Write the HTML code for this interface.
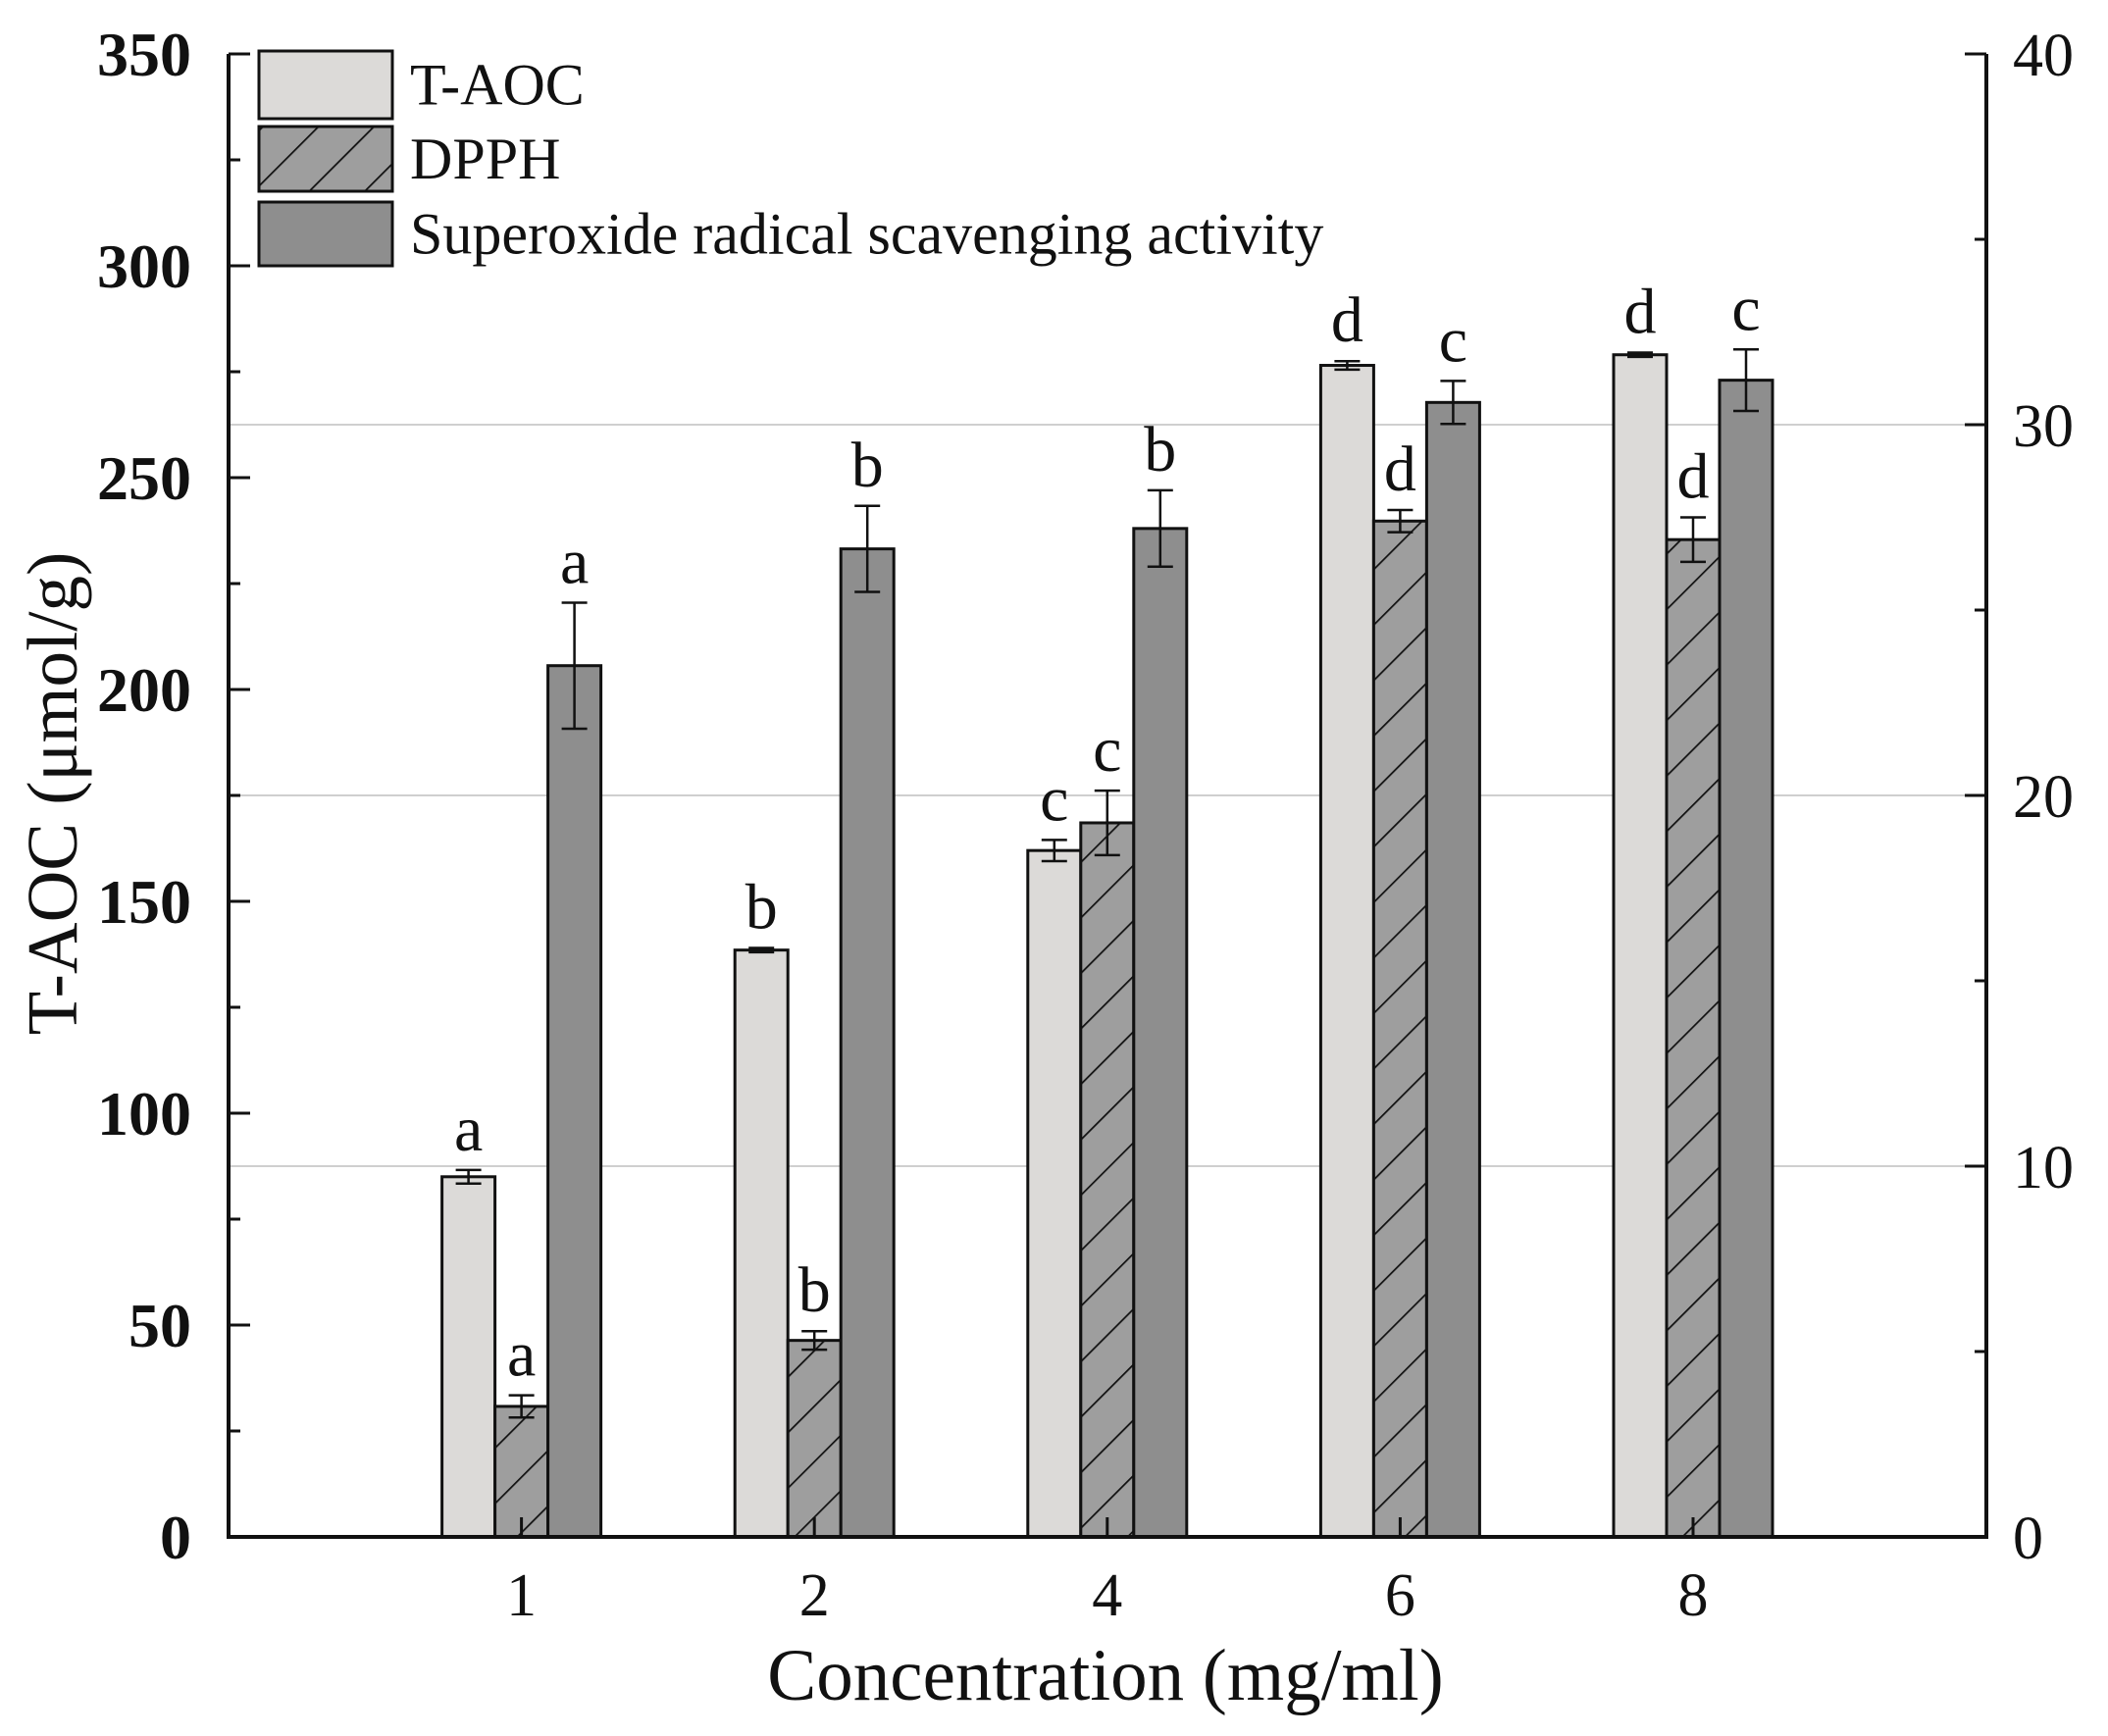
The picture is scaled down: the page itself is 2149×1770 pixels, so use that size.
<!DOCTYPE html>
<html><head><meta charset="utf-8"><style>body{margin:0;background:#fff}svg{display:block}text{font-family:"Liberation Serif",serif}</style></head>
<body>
<svg id="chart" width="2149" height="1770" viewBox="0 0 2149 1770" xmlns="http://www.w3.org/2000/svg">
<defs>
<pattern id="hatch" patternUnits="userSpaceOnUse" width="40" height="40" patternTransform="rotate(45)">
<rect width="40" height="40" fill="#9e9e9e"/><line x1="0" y1="0" x2="0" y2="40" stroke="#111" stroke-width="3.5"/>
</pattern>
</defs>
<g id="plot"></g>
</svg>
<script>
const categories = ["1","2","4","6","8"];
const taocValues = [85, 138.5, 162, 276.5, 279];
const taocErrors = [1.6, 0.5, 2.5, 1, 0.5];
const taocLetters = ["a","b","c","d","d"];
const dpphValues = [3.52, 5.3, 19.26, 27.4, 26.9];
const dpphErrors = [0.3, 0.25, 0.87, 0.3, 0.6];
const dpphLetters = ["a","b","c","d","d"];
const sorValues = [23.5, 26.65, 27.2, 30.6, 31.2];
const sorErrors = [1.7, 1.16, 1.03, 0.58, 0.83];
const sorLetters = ["a","b","b","c","c"];
const leftTicks = [0,50,100,150,200,250,300,350];
const rightTicks = [0,10,20,30,40];

const NS="http://www.w3.org/2000/svg";
const g=document.getElementById('plot');
const L=233,R=2025,T=55,B=1567;
const yL=v=>B-(v/350)*(B-T);
const yR=v=>B-(v/40)*(B-T);
const xC=i=>L+(i+1)*298.6;
const BW=54;
function mk(tag,attrs,parent){const e=document.createElementNS(NS,tag);for(const k in attrs)e.setAttribute(k,attrs[k]);(parent||g).appendChild(e);return e;}

[10,20,30].forEach(v=>{
  const l=mk('line',{x1:L,x2:R,y1:yR(v),y2:yR(v),stroke:'#cfcfcf','stroke-width':2});
  
  
});

function series(vals,errs,letters,yf,offset,fill,name){
  vals.forEach((v,i)=>{
    const x=xC(i)+offset-BW/2;
    const r=mk('rect',{x:x,y:yf(v),width:BW,height:B-yf(v),fill:fill,stroke:'#111','stroke-width':3});
    
    
    const cx=x+BW/2, t=yf(v+errs[i]), b=yf(v-errs[i]);
    const eg=mk('g',{stroke:'#111','stroke-width':2.5});
    
    
    mk('line',{x1:cx,x2:cx,y1:t,y2:b},eg);
    mk('line',{x1:cx-13,x2:cx+13,y1:t,y2:t},eg);
    mk('line',{x1:cx-13,x2:cx+13,y1:b,y2:b},eg);
    const tx=mk('text',{x:cx,y:t-20,'text-anchor':'middle','font-size':66,fill:'#111'});
    tx.textContent=letters[i];
    
    
  });
}
series(taocValues,taocErrors,taocLetters,yL,-BW,'#dcdad8','taoc');
series(dpphValues,dpphErrors,dpphLetters,yR,0,'url(#hatch)','dpph');
series(sorValues,sorErrors,sorLetters,yR,BW,'#8e8e8e','superoxide');

const ax=mk('path',{d:`M${L},${T} V${B} H${R} V${T}`,fill:'none',stroke:'#111','stroke-width':4});


for(let v=0;v<=350;v+=25){
  const len=v%50===0?22:12;
  mk('line',{x1:L,x2:L+len,y1:yL(v),y2:yL(v),stroke:'#111','stroke-width':3});
}
leftTicks.forEach(v=>{
  const t=mk('text',{x:195,y:yL(v)+22,'text-anchor':'end','font-size':64,'font-weight':'bold',fill:'#111'});
  t.textContent=v;
  
  
});
for(let v=0;v<=40;v+=5){
  const len=v%10===0?22:12;
  mk('line',{x1:R,x2:R-len,y1:yR(v),y2:yR(v),stroke:'#111','stroke-width':3});
}
rightTicks.forEach(v=>{
  const t=mk('text',{x:2052,y:yR(v)+22,'font-size':62,fill:'#111'});
  t.textContent=v;
  
  
});
categories.forEach((c,i)=>{
  mk('line',{x1:xC(i),x2:xC(i),y1:B,y2:B-20,stroke:'#111','stroke-width':3});
  const t=mk('text',{x:xC(i),y:1647,'text-anchor':'middle','font-size':62,fill:'#111'});
  t.textContent=c;
  
  
});
const xt=mk('text',{x:1127,y:1733,'text-anchor':'middle','font-size':75,fill:'#111'});
xt.textContent='Concentration (mg/ml)';


const yt=mk('text',{x:0,y:0,'text-anchor':'middle','font-size':73,fill:'#111',transform:'translate(78,809) rotate(-90)'});
yt.textContent='T-AOC (μmol/g)';



const legend=[['T-AOC','#dcdad8',52,121],['DPPH','url(#hatch)',129,195],['Superoxide radical scavenging activity','#8e8e8e',206,271]];
legend.forEach((e,i)=>{
  const lg=mk('g',{});
  
  
  mk('rect',{x:264,y:e[2],width:136,height:e[3]-e[2],fill:e[1],stroke:'#111','stroke-width':3},lg);
  const t=mk('text',{x:418,y:(e[2]+e[3])/2+20,'font-size':60,fill:'#111'},lg);
  t.textContent=e[0];
});
</script>
</body></html>
